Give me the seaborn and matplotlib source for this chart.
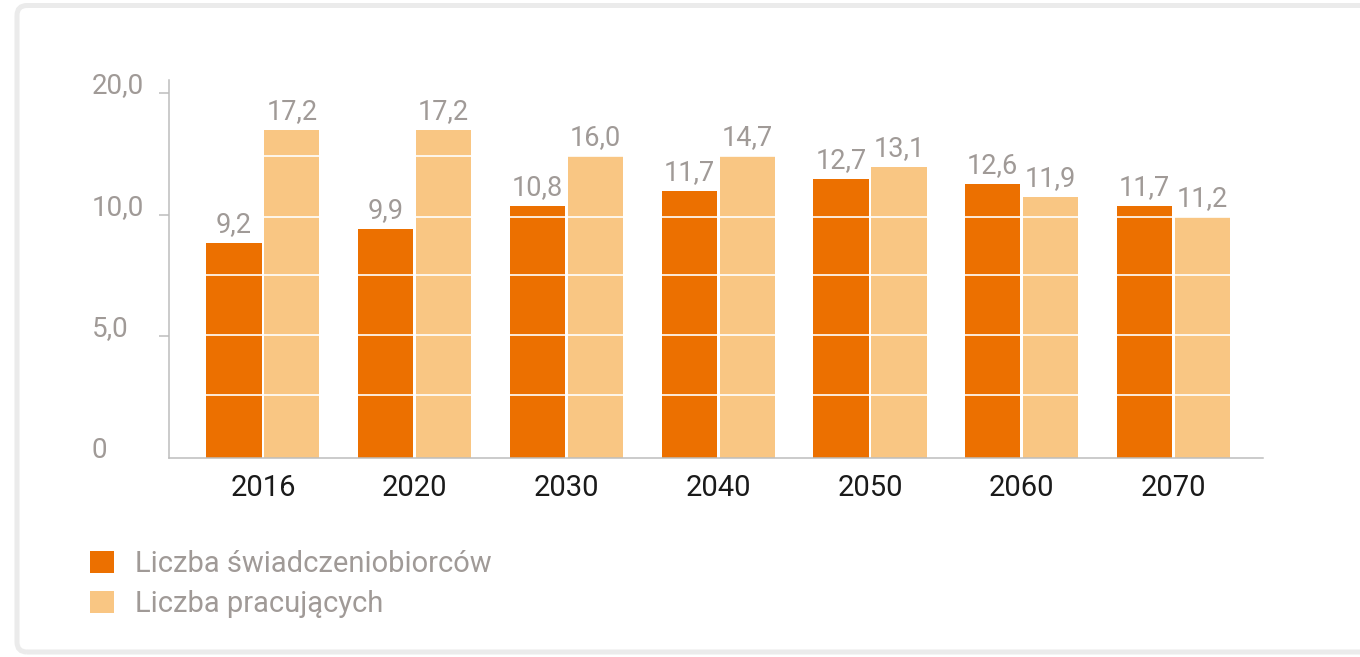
"""Beneficiaries vs. workers bar chart."""

import matplotlib

matplotlib.use("Agg")

import matplotlib.pyplot as plt
import pandas as pd
import seaborn as sns
from matplotlib.patches import FancyBboxPatch
from matplotlib.transforms import IdentityTransform

YEARS = ["2016", "2020", "2030", "2040", "2050", "2060", "2070"]
SERIES = ["Liczba świadczeniobiorców", "Liczba pracujących"]

# printed values
BENEF_VALUES = [9.2, 9.9, 10.8, 11.7, 12.7, 12.6, 11.7]
WORKER_VALUES = [17.2, 17.2, 16.0, 14.7, 13.1, 11.9, 11.2]

# bar heights as drawn in the picture (axis units)
BENEF_HEIGHTS = [8.84, 9.41, 10.36, 10.98, 11.47, 11.26, 10.36]
WORKER_HEIGHTS = [13.49, 13.49, 12.42, 12.42, 11.96, 10.73, 9.91]

Y_TICKS = [0, 5, 10, 15]
Y_TICK_LABELS = ["0", "5,0", "10,0", "20,0"]
GRID_LEVELS = [2.6, 5.05, 7.5, 9.9, 12.4]

ORANGE = "#EC7000"
LIGHT = "#F9C683"
GRAY = "#A09A97"
AXIS = "#BDBDBD"


def fmt(v: float) -> str:
    return f"{v:.1f}".replace(".", ",")


def main() -> None:
    sns.set_theme(style="white")
    plt.rcParams["font.family"] = ["Roboto", "DejaVu Sans"]

    df = pd.DataFrame(
        {
            "year": YEARS * 2,
            "height": BENEF_HEIGHTS + WORKER_HEIGHTS,
            "series": [SERIES[0]] * len(YEARS) + [SERIES[1]] * len(YEARS),
        }
    )

    fig = plt.figure(figsize=(13.6, 6.57), dpi=100)
    ax = fig.add_axes([0.1245, 0.3033, 0.8042, 0.5749])

    sns.barplot(
        data=df, x="year", y="height", hue="series", hue_order=SERIES,
        palette=[ORANGE, LIGHT], saturation=1, width=0.764, gap=0.05,
        linewidth=0, ax=ax,
    )

    for container, values in zip(ax.containers, [BENEF_VALUES, WORKER_VALUES]):
        texts = ax.bar_label(container, labels=[fmt(v) for v in values], padding=3.5,
                             color=GRAY, fontsize=19.5)
        for t in texts:
            t.set_zorder(6)

    # white rules only show up across the bars
    for level in GRID_LEVELS:
        ax.axhline(level, xmin=0.006, color="white", linewidth=1.4, alpha=0.85, zorder=3)

    ax.set_xlim(-0.617, 6.59)
    ax.set_ylim(0, 15.54)
    ax.set_yticks(Y_TICKS, Y_TICK_LABELS)
    ax.grid(False)

    ax.tick_params(axis="y", left=True, length=7.2, width=1.1,
                   color=AXIS, pad=48.5, labelsize=20, labelcolor=GRAY)
    ax.tick_params(axis="x", length=0, pad=11.5, labelsize=21, labelcolor="#1a1a1a")
    for lbl in ax.get_yticklabels():
        lbl.set_horizontalalignment("left")
        lbl.set_verticalalignment("baseline")
    ax.yaxis.get_major_ticks()[0].tick1line.set_visible(False)

    ax.set_xlabel("")
    ax.set_ylabel("")
    sns.despine(ax=ax)
    for side in ("left", "bottom"):
        ax.spines[side].set_color(AXIS)
        ax.spines[side].set_linewidth(1.1)
        ax.spines[side].set_zorder(5)

    sns.move_legend(
        ax, "upper left", bbox_to_anchor=(90 / 1360, 1 - 550 / 657),
        bbox_transform=fig.transFigure, title=None, frameon=False,
        fontsize=21, handlelength=0.82, handleheight=0.82, handletextpad=0.72,
        labelspacing=0.42, borderpad=0, borderaxespad=0, labelcolor=GRAY,
    )

    frame = FancyBboxPatch(
        (17, 5), 1400, 646.5, boxstyle="round,pad=0,rounding_size=10",
        transform=IdentityTransform(), facecolor="none", edgecolor="#EBEBEB",
        linewidth=3.6,
    )
    fig.patches.append(frame)

    fig.savefig("out.png", dpi=100)


if __name__ == "__main__":
    main()
